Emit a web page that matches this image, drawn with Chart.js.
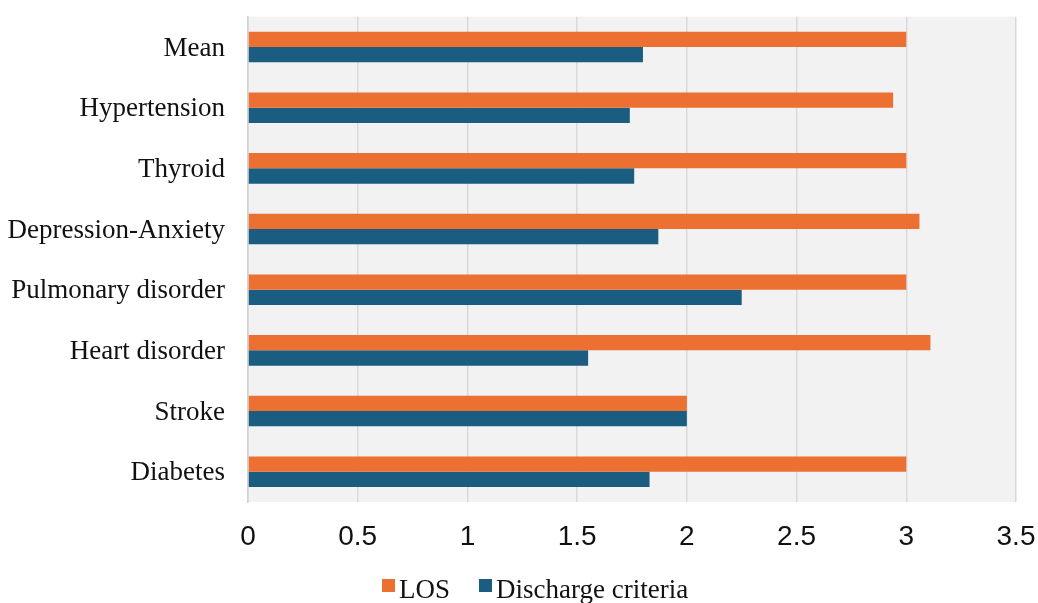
<!DOCTYPE html>
<html>
<head>
<meta charset="utf-8">
<script src="https://cdn.jsdelivr.net/npm/chart.js@4/dist/chart.umd.min.js"></script>
<style>
  html, body { margin: 0; padding: 0; background: #ffffff; }
  #wrap { position: relative; width: 1038px; height: 603px; }
</style>
</head>
<body>
<div id="wrap"><canvas id="c" width="1038" height="603"></canvas></div>
<script>
const categories = ["Mean", "Hypertension", "Thyroid", "Depression-Anxiety", "Pulmonary disorder", "Heart disorder", "Stroke", "Diabetes"];
const losValues = [3.0, 2.94, 3.0, 3.06, 3.0, 3.11, 2.0, 3.0];
const dischargeValues = [1.8, 1.74, 1.76, 1.87, 2.25, 1.55, 2.0, 1.83];
const seriesNames = ["LOS", "Discharge criteria"];
const seriesColors = ["#EC7032", "#1B5D80"];
const xTicks = [0, 0.5, 1, 1.5, 2, 2.5, 3, 3.5];

const plotBg = {
  id: 'plotBg',
  beforeDraw(chart) {
    const { ctx, chartArea: a } = chart;
    ctx.save();
    ctx.fillStyle = '#F2F2F2';
    ctx.fillRect(a.left, a.top, a.right - a.left, a.bottom - a.top);
    ctx.restore();
  }
};

const customLegend = {
  id: 'customLegend',
  afterDraw(chart) {
    const { ctx } = chart;
    const ds = chart.data.datasets;
    ctx.save();
    ctx.font = '27px "Liberation Serif", "Times New Roman", serif';
    ctx.textBaseline = 'alphabetic';
    const box = 13, gapBox = 4, gapItem = 29;
    const widths = ds.map(d => ctx.measureText(d.label).width);
    let x = 382;
    const baseY = 598;
    ds.forEach((d, i) => {
      ctx.fillStyle = d.backgroundColor;
      ctx.fillRect(x, baseY - 19, box, box);
      ctx.fillStyle = '#111111';
      ctx.fillText(d.label, x + box + gapBox, baseY);
      x += box + gapBox + widths[i] + gapItem;
    });
    ctx.restore();
  }
};

function zeroPad(scale) {
  scale.paddingTop = 0; scale.paddingBottom = 0;
  scale.paddingLeft = 0; scale.paddingRight = 0;
}

new Chart(document.getElementById('c'), {
  type: 'bar',
  data: {
    labels: categories,
    datasets: [
      { label: seriesNames[0], data: losValues, backgroundColor: seriesColors[0] },
      { label: seriesNames[1], data: dischargeValues, backgroundColor: seriesColors[1] }
    ]
  },
  options: {
    indexAxis: 'y',
    responsive: false,
    animation: false,
    devicePixelRatio: 1,
    layout: { padding: { top: 16.7, right: 22, bottom: 0, left: 0 } },
    datasets: { bar: { categoryPercentage: 0.504, barPercentage: 1.0 } },
    plugins: { legend: { display: false }, tooltip: { enabled: false } },
    scales: {
      x: {
        min: 0, max: 3.5,
        afterBuildTicks(scale) { scale.ticks = xTicks.map(v => ({ value: v })); },
        afterFit(scale) { scale.height = 101; zeroPad(scale); },
        grid: { color: '#D9D9D9', lineWidth: 1.5, drawTicks: false },
        border: { display: false },
        ticks: {
          padding: 18,
          color: '#111111',
          font: { family: '"Liberation Sans", Arial, sans-serif', size: 28 },
          callback: (v) => String(v)
        }
      },
      y: {
        afterFit(scale) { scale.width = 248; zeroPad(scale); },
        grid: { display: false, drawTicks: false },
        border: { display: true, color: '#D0D0D0', width: 1.5 },
        ticks: {
          padding: 23,
          labelOffset: 1.5,
          color: '#111111',
          font: { family: '"Liberation Serif", "Times New Roman", serif', size: 27 }
        }
      }
    }
  },
  plugins: [plotBg, customLegend]
});
</script>
</body>
</html>
